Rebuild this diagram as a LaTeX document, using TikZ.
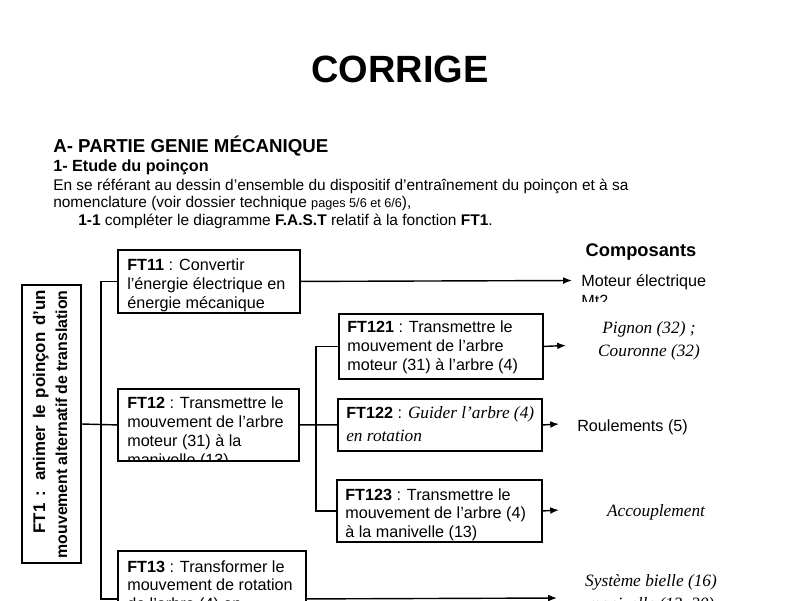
\documentclass[tikz,border=0pt]{standalone}
\usepackage{fontspec}
\setmainfont{Liberation Sans}
\newfontfamily\serifit{Liberation Serif}
\usetikzlibrary{arrows.meta}

\begin{document}
\begin{tikzpicture}[x=0.025cm, y=-0.025cm,
		fbox/.style={draw, line width=1.3pt, inner sep=0pt},
		ftext/.style={anchor=north west, inner sep=0pt, align=left, font=\fontsize{11.5}{13.5}\selectfont},
		txt/.style={anchor=base west, inner sep=0pt, font=\fontsize{11}{13}\selectfont},
		link/.style={line width=1pt},
		arr/.style={line width=1pt, -{Latex[length=2.2mm, width=1.7mm]}},
		comp/.style={inner sep=0pt, font=\fontsize{11.5}{13.5}\selectfont},
		compit/.style={inner sep=0pt, font=\serifit\itshape\fontsize{12.3}{15.6}\selectfont},
	]
	\useasboundingbox (0,0) rectangle (800,600);
	\clip (0,0) rectangle (800,600);

	% en-tete
	\node[anchor=base, inner sep=0pt, font=\bfseries\fontsize{27}{30}\selectfont] (titre) at (400,82) {CORRIGE};
	\node[txt, font=\bfseries\fontsize{13.3}{15}\selectfont] (partie) at (53,152) {A- PARTIE GENIE MÉCANIQUE};
	\node[txt, font=\bfseries\fontsize{11.5}{13}\selectfont] (etude) at (53,171) {1- Etude du poinçon};
	\node[txt] (intro1) at (53,190) {En se référant au dessin d’ensemble du dispositif d’entraînement du poinçon et à sa};
	\node[txt] (intro2) at (53,207) {nomenclature (voir dossier technique {\fontsize{9}{10}\selectfont pages 5/6 et 6/6}),};
	\node[txt] (consigne) at (78,225) {\textbf{1-1} compléter le diagramme \textbf{F.A.S.T} relatif à la fonction \textbf{FT1}.};

	% fonction principale
	\node[fbox, rotate=90, minimum width=6.95cm, minimum height=1.475cm] (ft1) at (51.5,424) {};
	\node[rotate=90, anchor=base east, inner sep=0pt, font=\bfseries\fontsize{12}{15.6}\selectfont] (ft1a) at (45,290)
		{\hbox to 6.075cm{FT1 : animer le poinçon d’un}};
	\node[rotate=90, anchor=base east, inner sep=0pt, font=\bfseries\fontsize{11.3}{15.6}\selectfont] (ft1b) at (67,290)
		{\hbox to 6.7cm{mouvement alternatif de translation}};

	% fonctions techniques
	\node[fbox, anchor=north west, minimum width=4.55cm, minimum height=1.575cm] (ft11) at (117,249) {};
	\node[ftext] (ft11t) at ([shift={(10,9.5)}]ft11.north west) {\textbf{FT11} : Convertir\\l’énergie électrique en\\énergie mécanique};

	\begin{scope}
		\clip (117,388) rectangle (298,460);
		\node[ftext] (ft12t) at (127,396.5) {\textbf{FT12} : Transmettre le\\mouvement de l’arbre\\moteur (31) à la\\manivelle (13)};
	\end{scope}
	\node[fbox, anchor=north west, minimum width=4.525cm, minimum height=1.8cm] (ft12) at (117,388) {};

	\node[fbox, anchor=north west, minimum width=4.7cm, minimum height=2.4cm] (ft13) at (117,550) {};
	\node[ftext] (ft13t) at ([shift={(10,10)}]ft13.north west) {\textbf{FT13} : Transformer le\\mouvement de rotation\\de l’arbre (4) en};

	\node[fbox, anchor=north west, minimum width=5.1cm, minimum height=1.625cm] (ft121) at (338,313) {};
	\node[ftext] (ft121t) at ([shift={(9,7.5)}]ft121.north west) {\textbf{FT121} : Transmettre le\\mouvement de l’arbre\\moteur (31) à l’arbre (4)};

	\node[fbox, anchor=north west, minimum width=5.1cm, minimum height=1.3cm] (ft122) at (337,398) {};
	\node[ftext, font=\fontsize{11.5}{15.8}\selectfont] (ft122t) at ([shift={(9,8.5)}]ft122.north west)
		{\textbf{FT122} : {\serifit\itshape\fontsize{12.3}{15.8}\selectfont Guider l’arbre (4)}\\{\serifit\itshape\fontsize{12.3}{15.8}\selectfont en rotation}};

	\node[fbox, anchor=north west, minimum width=5.125cm, minimum height=1.55cm] (ft123) at (336,479) {};
	\node[ftext] (ft123t) at ([shift={(9,9)}]ft123.north west) {\textbf{FT123} : Transmettre le\\mouvement de l’arbre (4)\\à la manivelle (13)};

	% liaisons
	\draw[link] (ft1.south) -- (ft12.west);
	\draw[link] (ft11.west) -- ++(-16,0) |- (ft13.west);
	\draw[link] (ft12.east) -- (ft122.west);
	\draw[link] (ft121.west) -- ++(-22,0) |- (ft123.west);

	% composants
	\node[anchor=base, inner sep=0pt, font=\bfseries\fontsize{13}{15}\selectfont] (composants) at (641,256.7) {Composants};
	\node[comp, anchor=base west] (moteur) at (581,286.7) {Moteur électrique};
	\begin{scope}
		\clip (575,290) rectangle (760,301);
		\node[comp, anchor=base west] (mt2) at (581,306.5) {Mt2};
	\end{scope}
	\node[compit, anchor=base] (pignon) at (649,333.3) {Pignon (32) ;};
	\node[compit, anchor=base] (couronne) at (649,356.7) {Couronne (32)};
	\node[comp, anchor=base west] (roulements) at (577,431.5) {Roulements (5)};
	\node[compit, anchor=base] (accouplement) at (656,516) {Accouplement};
	\node[compit, anchor=base] (bielle) at (651,586.7) {Système bielle (16)};
	\node[compit, anchor=base] (manivelle) at (651,609) {manivelle (13, 20)};

	\coordinate (t11) at (572,280.5);
	\coordinate (t121) at (566,345.5);
	\coordinate (t122) at (559,424);
	\coordinate (t123) at (559,510);
	\coordinate (t13) at (557,598);
	\draw[arr] (ft11.east) -- (t11);
	\draw[arr] (ft121.east) -- (t121);
	\draw[arr] (ft122.east) -- (t122);
	\draw[arr] (ft123.east) -- (t123);
	\draw[arr] (ft13.east) -- (t13);
\end{tikzpicture}
\end{document}
